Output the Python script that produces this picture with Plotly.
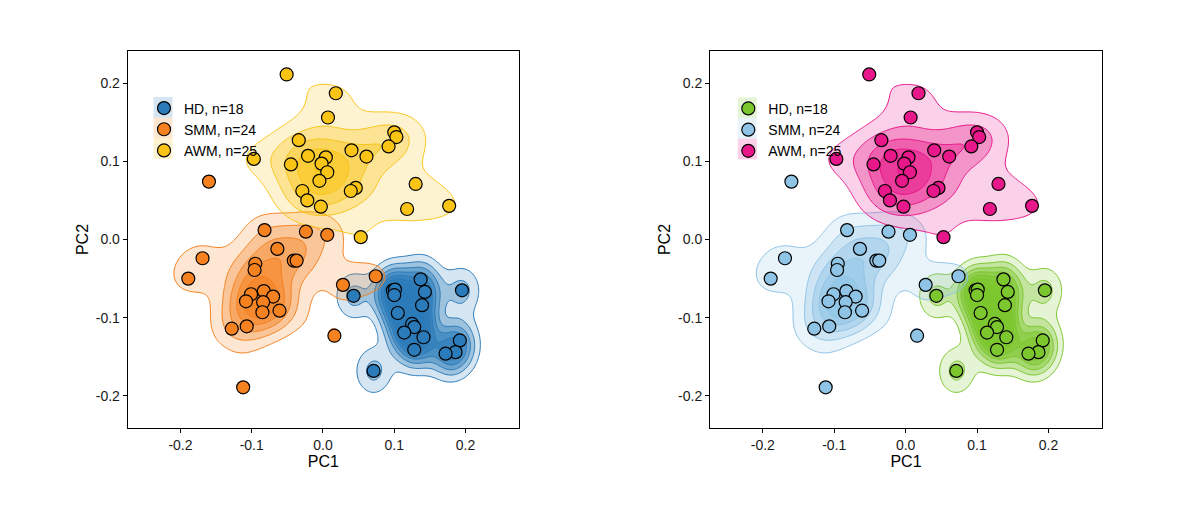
import numpy as np
import plotly.graph_objects as go

# PCA scores
groups = ["HD", "SMM", "AWM"]
counts = [18, 24, 25]

hd_pc1 = [0.043, 0.137, 0.195, 0.098, 0.101, 0.100, 0.143, 0.139, 0.105,
          0.125, 0.128, 0.114, 0.141, 0.192, 0.186, 0.172, 0.128, 0.071]
hd_pc2 = [-0.072, -0.051, -0.065, -0.065, -0.064, -0.071, -0.067, -0.084, -0.094,
          -0.108, -0.112, -0.119, -0.125, -0.129, -0.144, -0.146, -0.141, -0.168]

smm_pc1 = [-0.160, -0.082, -0.024, 0.006, -0.169, -0.064, -0.041, -0.037,
           -0.095, -0.096, -0.189, -0.101, -0.083, -0.070, -0.108, -0.084,
           -0.085, -0.061, -0.128, -0.107, -0.112, 0.016, 0.028, 0.074]
smm_pc2 = [0.074, 0.012, 0.010, 0.006, -0.024, -0.012, -0.027, -0.027,
           -0.031, -0.039, -0.050, -0.070, -0.066, -0.073, -0.079, -0.080,
           -0.093, -0.091, -0.114, -0.111, -0.189, -0.123, -0.058, -0.047]

awm_pc1 = [-0.051, -0.097, -0.034, -0.021, -0.045, -0.029, -0.022, 0.018, 0.007,
           0.100, 0.103, 0.092, 0.040, 0.061, 0.004, -0.002, 0.006, -0.005,
           -0.003, 0.046, 0.039, 0.130, 0.177, 0.118, 0.053]
awm_pc2 = [0.211, 0.103, 0.127, 0.107, 0.096, 0.062, 0.050, 0.187, 0.156,
           0.137, 0.131, 0.119, 0.114, 0.106, 0.105, 0.097, 0.086, 0.075,
           0.042, 0.066, 0.062, 0.071, 0.043, 0.039, 0.003]

tick_vals = [-0.2, -0.1, 0.0, 0.1, 0.2]
tick_text = ["-0.2", "-0.1", "0.0", "0.1", "0.2"]

pc1 = [hd_pc1, smm_pc1, awm_pc1]
pc2 = [hd_pc2, smm_pc2, awm_pc2]

palettes = [
    ["#2b7bba", "#f5811f", "#f9c416"],   # left panel
    ["#7cc62e", "#8fc4e6", "#e8178a"],   # right panel
]

font = "Liberation Sans, Arial, sans-serif"


def rgba(hexcol, a):
    h = hexcol.lstrip("#")
    r, g, b = int(h[0:2], 16), int(h[2:4], 16), int(h[4:6], 16)
    return f"rgba({r},{g},{b},{a:.3f})"


def bw_nrd(v):
    # MASS::bandwidth.nrd / 4 -> kernel sd used by kde2d
    v = np.asarray(v)
    q75, q25 = np.percentile(v, [75, 25])
    h = min(np.std(v, ddof=1), (q75 - q25) / 1.34)
    return 1.06 * h * len(v) ** (-0.2)


def pretty_step(hi, n=10):
    cell = hi / n
    u = 10 ** np.floor(np.log10(cell))
    unit = u
    if 2 * u - cell < 1.5 * (cell - unit):
        unit = 2 * u
        if 5 * u - cell < 2.75 * (cell - unit):
            unit = 5 * u
            if 10 * u - cell < 1.5 * (cell - unit):
                unit = 10 * u
    return unit


gx = np.linspace(-0.32, 0.32, 240)
gy = np.linspace(-0.30, 0.30, 240)


def kde(xs, ys):
    xs, ys = np.asarray(xs), np.asarray(ys)
    hx, hy = bw_nrd(xs), bw_nrd(ys)
    kx = np.exp(-0.5 * ((gx[None, :] - xs[:, None]) / hx) ** 2) / (hx * np.sqrt(2 * np.pi))
    ky = np.exp(-0.5 * ((gy[None, :] - ys[:, None]) / hy) ** 2) / (hy * np.sqrt(2 * np.pi))
    return (ky.T @ kx) / len(xs)


dens = [kde(pc1[i], pc2[i]) for i in range(3)]
zmax_all = max(d.max() for d in dens)
step = pretty_step(zmax_all)
nlev = int(np.floor(zmax_all / step))

fig = go.Figure()

for p, pal in enumerate(palettes):
    xa = "x" if p == 0 else "x2"
    ya = "y" if p == 0 else "y2"
    leg = "legend" if p == 0 else "legend2"
    for i in range(3):
        col = pal[i]
        stops = [[0.0, rgba(col, 0.0)]]
        for k in range(1, nlev + 1):
            a = 1 - 0.8 * 0.85 ** (k - 1)
            stops.append([k / nlev, rgba(col, a)])
        fig.add_trace(go.Contour(
            x=gx, y=gy, z=dens[i], xaxis=xa, yaxis=ya,
            contours=dict(start=step, end=step * nlev, size=step, coloring="fill"),
            colorscale=stops, showscale=False,
            line=dict(color=col, width=1.0, smoothing=1.0),
            hoverinfo="skip", showlegend=False,
        ))
    for i in range(3):
        fig.add_trace(go.Scatter(
            x=pc1[i], y=pc2[i], xaxis=xa, yaxis=ya, mode="markers",
            name=f"{groups[i]}, n={counts[i]}", legend=leg, legendgroup=f"{p}{i}",
            marker=dict(size=13, color=pal[i], line=dict(color="black", width=1.2)),
        ))

# positions in reference pixels; the page body adds an 8px offset
OFF = 8
W, H = 1200, 510
top, bottom = 51 - OFF, 428 - OFF
panels_px = [(127.7 - OFF, 519 - OFF), (710 - OFF, 1102 - OFF)]
legend_px = [(165 - OFF, 107.3 - OFF), (749.3 - OFF, 107.7 - OFF)]
item_h = 20.7


def py(v):
    return (bottom - v) / (bottom - top)


axis_common = dict(
    showgrid=False, zeroline=False, showline=True, mirror=True,
    linecolor="black", linewidth=1, ticks="outside", ticklen=4,
    tickcolor="black", tickfont=dict(family=font, size=14, color="#1a1a1a"),
    title_font=dict(family=font, size=16, color="black"),
)

layout = dict(
    width=W, height=H, paper_bgcolor="white", plot_bgcolor="white",
    margin=dict(l=0, r=0, t=top, b=H - bottom),
    font=dict(family=font, color="black"),
    shapes=[],
)
for p, (l, r) in enumerate(panels_px):
    sx = "" if p == 0 else "2"
    layout[f"xaxis{sx}"] = dict(
        axis_common, domain=[l / W, r / W], range=[-0.274, 0.275],
        tickvals=tick_vals, ticktext=tick_text, title=dict(text="PC1", standoff=3),
        anchor=f"y{sx}",
    )
    layout[f"yaxis{sx}"] = dict(
        axis_common, domain=[0, 1], range=[-0.241, 0.241],
        tickvals=tick_vals, ticktext=tick_text, title=dict(text="PC2", standoff=3),
        anchor=f"x{sx}",
    )
    mx, my = legend_px[p]
    layout["legend" if p == 0 else "legend2"] = dict(
        x=(mx - 21) / W, y=py(my - item_h / 2 - 4.5),
        xanchor="left", yanchor="top", bgcolor="rgba(0,0,0,0)",
        font=dict(family=font, size=14, color="black"),
        itemwidth=30, tracegroupgap=0, borderwidth=0,
    )
    for i in range(3):
        cy = my + i * item_h
        layout["shapes"].append(dict(
            type="rect", xref="paper", yref="paper", layer="below", line_width=0,
            x0=(mx - 9.5 - 2) / W, x1=(mx + 9.5 - 2) / W,
            y0=py(cy - item_h / 2), y1=py(cy + item_h / 2),
            fillcolor=rgba(palettes[p][i], 0.2),
        ))

fig.update_layout(**layout)
fig.write_html("out.html")
